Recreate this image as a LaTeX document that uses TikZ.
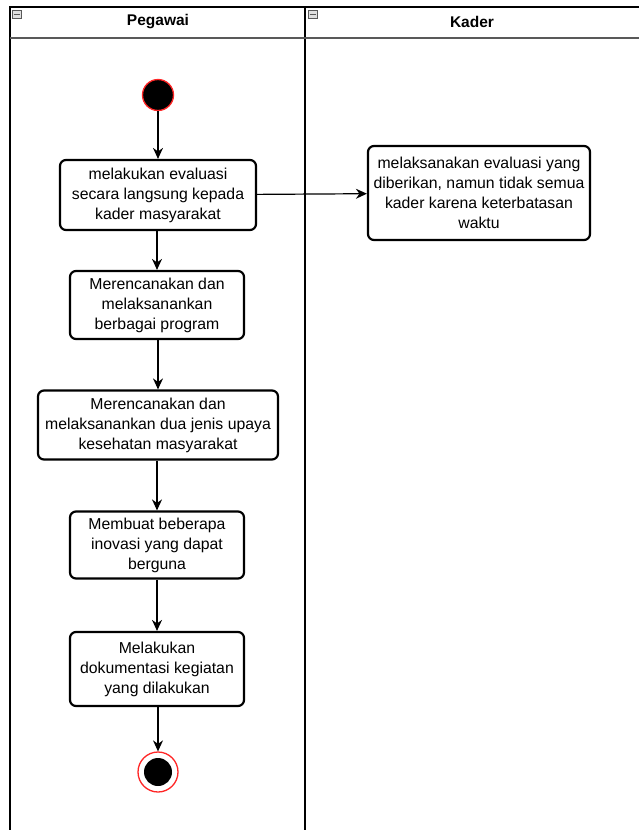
\documentclass[tikz,border=0pt]{standalone}
\usepackage{fontspec}
\setmainfont{Liberation Sans}
\usetikzlibrary{arrows.meta,positioning,calc}
\tikzset{
  actbox/.style={draw=black, rounded corners=6pt, line width=2.2pt, fill=white, align=center, inner sep=2pt, font=\fontsize{15.8}{20}\selectfont},
  startdot/.style={circle, fill=black, draw=red!85, line width=1.3pt, minimum size=31pt, inner sep=0pt},
  enddot/.style={circle, draw=red!85, line width=1.3pt, fill=white, minimum size=40pt, inner sep=0pt},
  actline/.style={-{Stealth[length=11pt,width=10pt]}, line width=1.2pt},
  lanehead/.style={font=\bfseries\fontsize{15.5}{17}\selectfont},
  minusbox/.style={draw=gray!70!black, fill=gray!25, minimum width=9pt, minimum height=8pt, inner sep=0pt, line width=0.7pt}
}
\begin{document}
\begin{tikzpicture}[x=1pt, y=-1pt]
  \useasboundingbox (0,0) rectangle (639,830);
  % swimlanes
  \draw[line width=1.2pt] (10,830) -- (10,7) -- (639,7);
  \draw[line width=1.2pt] (305,7) -- (305,830);
  \draw[line width=2.4pt, gray!70!black] (10,38) -- (639,38);
  \node[lanehead] (hpeg) at (158,22) {Pegawai};
  \node[lanehead] (hkad) at (472,22) {Kader};
  \node[minusbox] (mpeg) at (17,14) {};
  \node[minusbox] (mkad) at (313,14) {};
  \draw[gray!70!black, line width=0.9pt] (mpeg.west) ++(1.5pt,0) -- ($(mpeg.east)+(-1.5pt,0)$);
  \draw[gray!70!black, line width=0.9pt] (mkad.west) ++(1.5pt,0) -- ($(mkad.east)+(-1.5pt,0)$);

  % nodes
  \node[startdot] (start) at (158,95) {};
  \node[actbox, minimum width=196pt, minimum height=70pt] (eval) at (158,195) {melakukan evaluasi\\secara langsung kepada\\kader masyarakat};
  \node[actbox, minimum width=222pt, minimum height=94pt] (laks) at (479,193) {melaksanakan evaluasi yang\\diberikan, namun tidak semua\\kader karena keterbatasan\\waktu};
  \node[actbox, minimum width=174pt, minimum height=68pt] (renc) at (157,305) {Merencanakan dan\\melaksanankan\\berbagai program};
  \node[actbox, minimum width=240pt, minimum height=69pt] (upaya) at (158,425) {Merencanakan dan\\melaksanankan dua jenis upaya\\kesehatan masyarakat};
  \node[actbox, minimum width=174pt, minimum height=67pt] (inov) at (157,545) {Membuat beberapa\\inovasi yang dapat\\berguna};
  \node[actbox, minimum width=174pt, minimum height=74pt] (doku) at (157,669) {Melakukan\\dokumentasi kegiatan\\yang dilakukan};
  \node[enddot] (stop) at (158,772) {};
  \fill[black] (stop.center) circle (14pt);

  % flows
  \draw[actline] (start) -- (start |- eval.north);
  \draw[actline] (eval) -- (laks);
  \draw[actline] (eval.south -| renc.north) -- (renc);
  \draw[actline] (renc.south -| upaya.north) -- (upaya);
  \draw[actline] (upaya.south -| inov.north) -- (inov);
  \draw[actline] (inov) -- (doku);
  \draw[actline] (doku.south -| stop.north) -- (stop);
\end{tikzpicture}
\end{document}
